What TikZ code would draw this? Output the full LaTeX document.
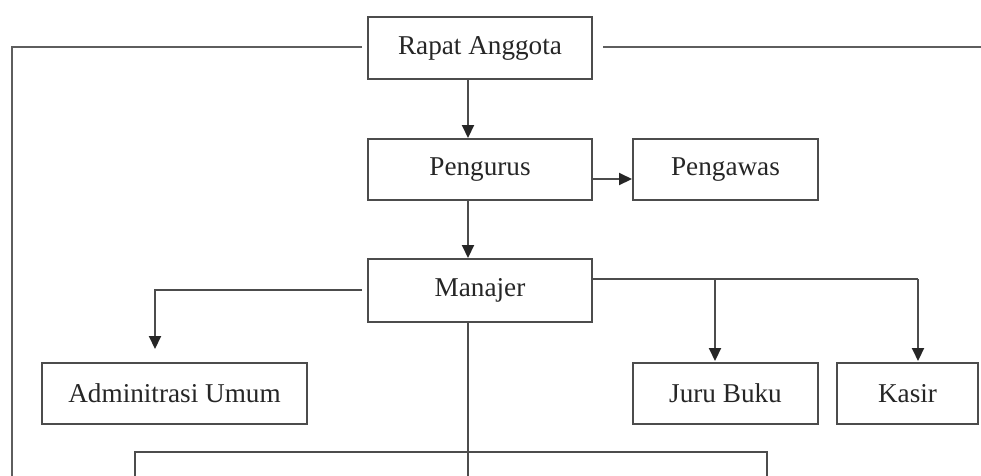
\documentclass[tikz,border=0pt]{standalone}
\usepackage{fontspec}
\setmainfont{Liberation Serif}
\usetikzlibrary{arrows.meta}
\definecolor{ln}{rgb}{0.3,0.3,0.3}
\tikzset{
  orgbox/.style={draw=ln, line width=2pt, minimum height=61pt, inner sep=0pt,
     font=\fontsize{27.2}{31}\selectfont, text=black!85},
  link/.style={draw=ln, line width=2pt},
  arr/.style={link, -{Triangle[width=12pt,length=13pt,fill=black!85,color=black!85]}},
  outer/.style={draw=ln!90, line width=2.6pt}
}
\begin{document}
\begin{tikzpicture}[x=1pt,y=-1pt]
\useasboundingbox (0,0) rectangle (981,475);
\clip (0,0) rectangle (981,475);
\fill[white] (0,0) rectangle (981,475);
% nodes
\node[orgbox, minimum width=224pt, minimum height=62pt] (rapat) at (480,48) {Rapat Anggota};
\node[orgbox, minimum width=224pt] (pengurus) at (480,169.5) {Pengurus};
\node[orgbox, minimum width=185pt] (pengawas) at (725.5,169.5) {Pengawas};
\node[orgbox, minimum width=224pt, minimum height=63pt] (manajer) at (480,290.5) {Manajer};
\node[orgbox, minimum width=265pt] (adm) at (174.5,393.5) {Adminitrasi Umum};
\node[orgbox, minimum width=185pt] (juru) at (725.5,393.5) {Juru Buku};
\node[orgbox, minimum width=141pt] (kasir) at (907.5,393.5) {Kasir};
\node[draw=ln, line width=2pt, minimum width=632pt, minimum height=80pt, inner sep=0pt] (bottom) at (451,492) {};
% coordinates
\coordinate (tl) at (362,47);
\coordinate (tlc) at (12,47);
\coordinate (tlb) at (12,480);
\coordinate (tr) at (603,47);
\coordinate (tre) at (985,47);
\coordinate (ml) at (362,290);
\coordinate (admtip) at (155,349);
\coordinate (jurutip) at (715,361);
\coordinate (kasirtip) at (918,361);
\coordinate (mr) at (918,279);
\coordinate (bend) at (468,480);
% outer lines
\draw[outer] (tl) -- (tlc) -- (tlb);
\draw[outer] (tr) -- (tre);
% arrows
\draw[arr] ([xshift=-12pt]rapat.south) -- ([xshift=-12pt]pengurus.north);
\draw[arr] ([yshift=-9.5pt]pengurus.east) -- ([yshift=-9.5pt]pengawas.west);
\draw[arr] ([xshift=-12pt]pengurus.south) -- ([xshift=-12pt]manajer.north);
\draw[arr] (ml) -| (admtip);
\draw[link] ([yshift=11.5pt]manajer.east) -- (mr);
\draw[arr] (mr) -- (kasirtip);
\draw[arr] (jurutip |- mr) -- (jurutip);
\draw[link] ([xshift=-12pt]manajer.south) -- (bend);
\end{tikzpicture}
\end{document}
